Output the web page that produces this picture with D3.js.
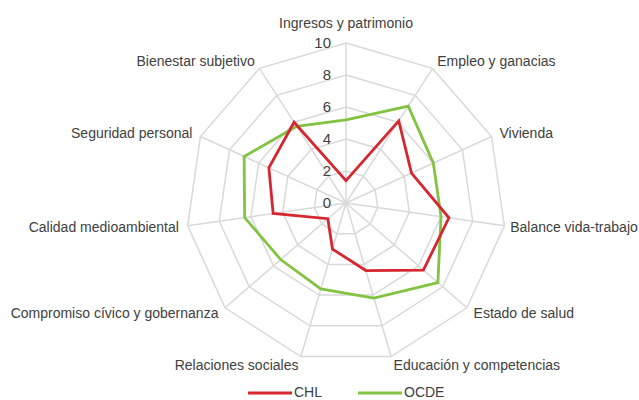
<!DOCTYPE html>
<html>
<head>
<meta charset="utf-8">
<title>Radar CHL vs OCDE</title>
<script src="https://cdn.jsdelivr.net/npm/d3@7"></script>
<style>
  body { margin: 0; background: #fff; }
  svg text { font-family: "Liberation Sans", Arial, sans-serif; fill: #404040; }
</style>
</head>
<body>
<div id="chart"></div>
<script>
// dimensions, in clockwise order from the top
var categories = ["Ingresos y patrimonio", "Empleo y ganacias", "Vivienda", "Balance vida-trabajo",
    "Estado de salud", "Educación y competencias", "Relaciones sociales",
    "Compromiso cívico y gobernanza", "Calidad medioambiental", "Seguridad personal",
    "Bienestar subjetivo"];
var chl  = [1.4, 6.1, 4.5, 6.5, 6.4, 4.4, 3.0, 1.5, 4.6, 5.3, 6.0];
var ocde = [5.2, 7.2, 6.0, 6.0, 7.6, 6.2, 5.6, 5.4, 6.4, 7.0, 5.7];
var ticks = [0, 2, 4, 6, 8, 10];
var seriesNames = ["CHL", "OCDE"];
var seriesColors = ["#d62630", "#82c341"];

var width = 639, height = 400;
var cx = 346, cy = 203, R = 160;

var svg = d3.select("#chart").append("svg")
    .attr("width", width)
    .attr("height", height);

var r = d3.scaleLinear().domain([0, 10]).range([0, R]);
var angle = d3.scaleLinear().domain([0, categories.length]).range([0, 2 * Math.PI]);

function pt(i, v) {
    var a = angle(i);
    return [cx + r(v) * Math.sin(a), cy - r(v) * Math.cos(a)];
}

var g = svg.append("g");

// rings
ticks.filter(function(t) { return t > 0; }).forEach(function(t) {
    g.append("polygon")
        .attr("points", categories.map(function(c, i) { return pt(i, t).join(","); }).join(" "))
        .attr("fill", "none")
        .attr("stroke", "#d9d9d9")
        .attr("stroke-width", 1.5);
});

// spokes
categories.forEach(function(c, i) {
    var p = pt(i, 10);
    g.append("line")
        .attr("x1", cx).attr("y1", cy)
        .attr("x2", p[0]).attr("y2", p[1])
        .attr("stroke", "#d9d9d9")
        .attr("stroke-width", 1.5);
});

// tick labels
g.selectAll(".tick").data(ticks).enter().append("text")
    .attr("x", cx - 15)
    .attr("y", function(d) { return cy - r(d); })
    .attr("dy", "0.36em")
    .attr("text-anchor", "end")
    .style("font-size", "15px")
    .text(function(d) { return d; });

// category labels
categories.forEach(function(c, i) {
    var p = pt(i, 10.55);
    var s = Math.sin(angle(i));
    var anchor = Math.abs(s) < 0.01 ? "middle" : (s > 0 ? "start" : "end");
    var t = g.append("text")
        .attr("x", p[0])
        .attr("y", i === 0 ? p[1] - 11 : p[1])
        .attr("dy", "0.35em")
        .attr("text-anchor", anchor)
        .style("font-size", "14px")
        .text(c);
    // keep it inside the frame
    var b = t.node().getBBox();
    if (b.x + b.width > width - 1) t.attr("x", p[0] - (b.x + b.width - width + 1));
});

// series
var line = d3.line().curve(d3.curveLinearClosed);
[ocde, chl].forEach(function(vals, k) {
    var col = k === 0 ? seriesColors[1] : seriesColors[0];
    g.append("path")
        .attr("d", line(vals.map(function(v, i) { return pt(i, v); })))
        .attr("fill", "none")
        .attr("stroke", col)
        .attr("stroke-width", 2.8)
        .attr("stroke-linejoin", "miter");
});

// legend
var legX = [248, 358];
seriesNames.forEach(function(n, k) {
    var lg = svg.append("g").attr("transform", "translate(" + legX[k] + ",392)");
    lg.append("line").attr("x1", 0).attr("x2", 44).attr("y1", 1).attr("y2", 1)
        .attr("stroke", seriesColors[k]).attr("stroke-width", 3);
    lg.append("text").attr("x", 46).attr("dy", "0.35em")
        .style("font-size", "14px").text(n);
});
</script>
</body>
</html>
